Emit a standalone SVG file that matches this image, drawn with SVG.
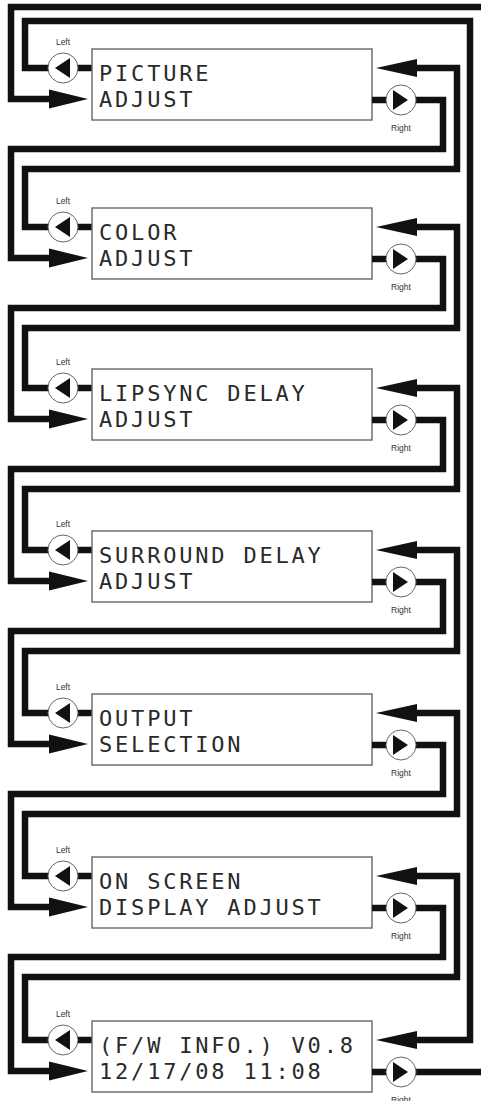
<svg xmlns="http://www.w3.org/2000/svg" width="481" height="1101" viewBox="0 0 481 1101">
<style>
.w{fill:none;stroke:#111;stroke-width:6.5;stroke-linejoin:miter;stroke-linecap:butt}
.ah{fill:#111}
.box{fill:#fff;stroke:#666;stroke-width:1.4}
.btn{fill:#fff;stroke:#666;stroke-width:1}
.tri{fill:#111}
.lcd{font-family:"DejaVu Sans Mono","Liberation Mono",monospace;font-size:22px;letter-spacing:2.8px;fill:#2a2a2a}
.lbl{font-family:"Liberation Sans",Arial,sans-serif;font-size:8.5px;fill:#333;text-anchor:middle}
</style>
<rect width="481" height="1101" fill="#fff"/>
<g id="connectors">
<path class="w" d="M481 7 H11 V99 H55"/>
<path class="ah" d="M49 89.5 L88 99 L49 108.5 Z"/>
<path class="w" d="M78 68 H25 V21 H470 V1040 H412"/>
<path class="ah" d="M376 1040 L417 1031 L417 1049 Z"/>
<path class="w" d="M416 1072 H481"/>
<path class="w" d="M416 100 H443 V149 H11 V258 H55"/>
<path class="ah" d="M49 248.5 L88 258 L49 267.5 Z"/>
<path class="w" d="M78 227 H25 V169 H457 V68 H412"/>
<path class="ah" d="M376 68 L417 59 L417 77 Z"/>
<path class="w" d="M416 259 H443 V308 H11 V419 H55"/>
<path class="ah" d="M49 409.5 L88 419 L49 428.5 Z"/>
<path class="w" d="M78 388 H25 V328 H457 V227 H412"/>
<path class="ah" d="M376 227 L417 218 L417 236 Z"/>
<path class="w" d="M416 420 H443 V469 H11 V581 H55"/>
<path class="ah" d="M49 571.5 L88 581 L49 590.5 Z"/>
<path class="w" d="M78 550 H25 V489 H457 V388 H412"/>
<path class="ah" d="M376 388 L417 379 L417 397 Z"/>
<path class="w" d="M416 582 H443 V631 H11 V744 H55"/>
<path class="ah" d="M49 734.5 L88 744 L49 753.5 Z"/>
<path class="w" d="M78 713 H25 V651 H457 V550 H412"/>
<path class="ah" d="M376 550 L417 541 L417 559 Z"/>
<path class="w" d="M416 745 H443 V794 H11 V907 H55"/>
<path class="ah" d="M49 897.5 L88 907 L49 916.5 Z"/>
<path class="w" d="M78 876 H25 V814 H457 V713 H412"/>
<path class="ah" d="M376 713 L417 704 L417 722 Z"/>
<path class="w" d="M416 908 H443 V957 H11 V1071 H55"/>
<path class="ah" d="M49 1061.5 L88 1071 L49 1080.5 Z"/>
<path class="w" d="M78 1040 H25 V977 H457 V876 H412"/>
<path class="ah" d="M376 876 L417 867 L417 885 Z"/>
</g>
<defs>
<g id="unit">
<text class="lbl" x="63" y="-4">Left</text>
<path class="w" d="M78 19 H92"/>
<circle class="btn" cx="63" cy="19" r="15"/>
<path class="tri" d="M55 19 L70 9 L70 29 Z"/>
<rect class="box" x="92" y="0" width="280" height="71"/>
<path class="w" d="M372 51 H386"/>
<circle class="btn" cx="401" cy="51" r="15"/>
<path class="tri" d="M408 51 L393 41 L393 61 Z"/>
<text class="lbl" x="401" y="82">Right</text>
</g>
</defs>
<g id="node1"><use href="#unit" transform="translate(0,49)"/><text class="lcd" x="99" y="81">PICTURE</text><text class="lcd" x="99" y="107">ADJUST</text></g>
<g id="node2"><use href="#unit" transform="translate(0,208)"/><text class="lcd" x="99" y="240">COLOR</text><text class="lcd" x="99" y="266">ADJUST</text></g>
<g id="node3"><use href="#unit" transform="translate(0,369)"/><text class="lcd" x="99" y="401">LIPSYNC DELAY</text><text class="lcd" x="99" y="427">ADJUST</text></g>
<g id="node4"><use href="#unit" transform="translate(0,531)"/><text class="lcd" x="99" y="563">SURROUND DELAY</text><text class="lcd" x="99" y="589">ADJUST</text></g>
<g id="node5"><use href="#unit" transform="translate(0,694)"/><text class="lcd" x="99" y="726">OUTPUT</text><text class="lcd" x="99" y="752">SELECTION</text></g>
<g id="node6"><use href="#unit" transform="translate(0,857)"/><text class="lcd" x="99" y="889">ON SCREEN</text><text class="lcd" x="99" y="915">DISPLAY ADJUST</text></g>
<g id="node7"><use href="#unit" transform="translate(0,1021)"/><text class="lcd" x="99" y="1053">(F/W INFO.) V0.8</text><text class="lcd" x="99" y="1079">12/17/08 11:08</text></g>
</svg>
